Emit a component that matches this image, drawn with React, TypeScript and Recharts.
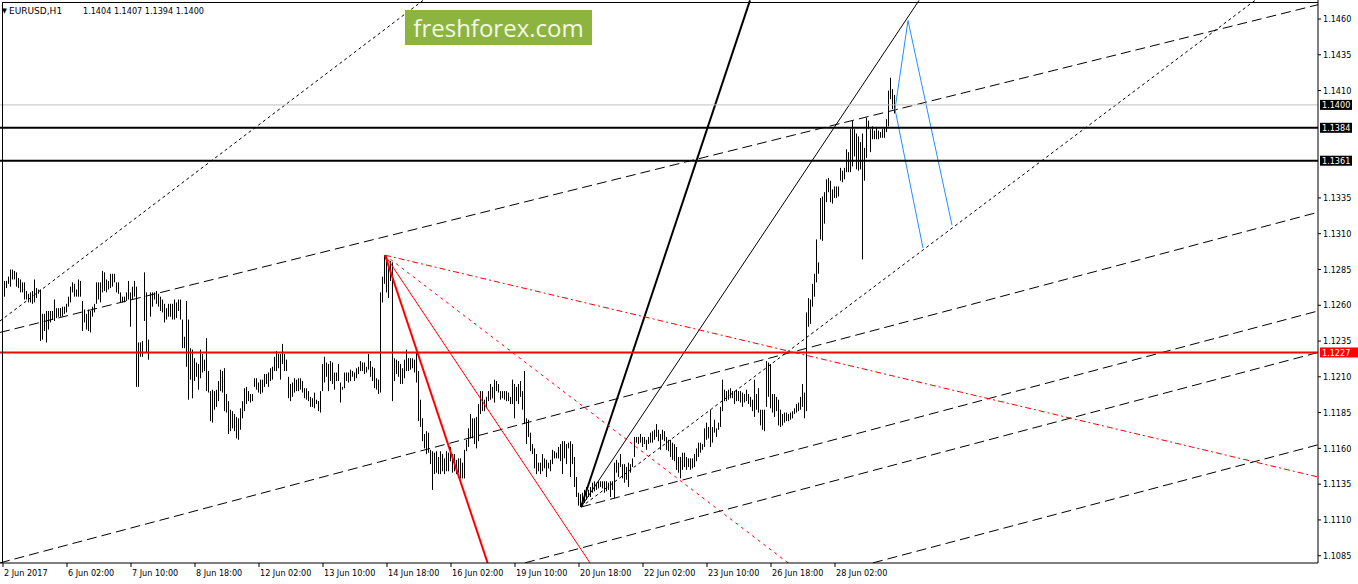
import React from "react";
import { ComposedChart, Bar, XAxis, YAxis, ReferenceLine } from "recharts";

const FONT = "'DejaVu Sans Condensed', 'DejaVu Sans', sans-serif";

// EURUSD H1, one row per trading day (24 bars), from 2 Jun 2017
const highs = [
  1.1283, 1.1277, 1.1277, 1.1280, 1.1285, 1.1285, 1.1284, 1.1283, 1.1279, 1.1278, 1.1276, 1.1276, 1.1270, 1.1268, 1.1269, 1.1270, 1.1278, 1.1272, 1.1271, 1.1271, 1.1254, 1.1254, 1.1256, 1.1256,
  1.1256, 1.1256, 1.1264, 1.1258, 1.1258, 1.1258, 1.1259, 1.1259, 1.1261, 1.1266, 1.1273, 1.1276, 1.1275, 1.1271, 1.1278, 1.1277, 1.1263, 1.1257, 1.1254, 1.1257, 1.1256, 1.1259, 1.1261, 1.1276,
  1.1276, 1.1276, 1.1284, 1.1283, 1.1278, 1.1277, 1.1282, 1.1282, 1.1282, 1.1276, 1.1276, 1.1269, 1.1266, 1.1266, 1.1269, 1.1277, 1.1269, 1.1273, 1.1277, 1.1273, 1.1234, 1.1234, 1.1235, 1.1283,
  1.1269, 1.1236, 1.1269, 1.1269, 1.1269, 1.1270, 1.1268, 1.1266, 1.1264, 1.1261, 1.1258, 1.1261, 1.1261, 1.1261, 1.1264, 1.1262, 1.1264, 1.1264, 1.1250, 1.1238, 1.1263, 1.1250, 1.1230, 1.1229,
  1.1223, 1.1220, 1.1219, 1.1229, 1.1226, 1.1222, 1.1237, 1.1214, 1.1200, 1.1201, 1.1200, 1.1201, 1.1207, 1.1215, 1.1214, 1.1216, 1.1198, 1.1193, 1.1187, 1.1186, 1.1184, 1.1182, 1.1181, 1.1188,
  1.1193, 1.1202, 1.1203, 1.1200, 1.1198, 1.1198, 1.1209, 1.1209, 1.1206, 1.1208, 1.1208, 1.1212, 1.1212, 1.1213, 1.1216, 1.1217, 1.1224, 1.1228, 1.1226, 1.1226, 1.1233, 1.1226, 1.1222, 1.1210,
  1.1205, 1.1206, 1.1209, 1.1208, 1.1209, 1.1209, 1.1207, 1.1202, 1.1202, 1.1200, 1.1196, 1.1195, 1.1199, 1.1194, 1.1193, 1.1200, 1.1219, 1.1224, 1.1220, 1.1219, 1.1221, 1.1220, 1.1213, 1.1213,
  1.1219, 1.1206, 1.1203, 1.1213, 1.1213, 1.1213, 1.1215, 1.1214, 1.1213, 1.1216, 1.1217, 1.1221, 1.1220, 1.1220, 1.1217, 1.1226, 1.1221, 1.1217, 1.1216, 1.1209, 1.1208, 1.1269, 1.1280, 1.1295,
  1.1293, 1.1289, 1.1291, 1.1290, 1.1223, 1.1222, 1.1221, 1.1219, 1.1216, 1.1222, 1.1229, 1.1223, 1.1223, 1.1223, 1.1222, 1.1227, 1.1214, 1.1194, 1.1181, 1.1170, 1.1172, 1.1171, 1.1159, 1.1158,
  1.1157, 1.1158, 1.1154, 1.1158, 1.1156, 1.1153, 1.1158, 1.1157, 1.1161, 1.1156, 1.1156, 1.1152, 1.1153, 1.1153, 1.1150, 1.1159, 1.1166, 1.1174, 1.1184, 1.1181, 1.1181, 1.1182, 1.1191, 1.1200,
  1.1200, 1.1194, 1.1196, 1.1200, 1.1205, 1.1203, 1.1208, 1.1207, 1.1205, 1.1200, 1.1200, 1.1200, 1.1200, 1.1199, 1.1196, 1.1208, 1.1205, 1.1203, 1.1205, 1.1207, 1.1200, 1.1214, 1.1181, 1.1180,
  1.1171, 1.1163, 1.1160, 1.1156, 1.1150, 1.1150, 1.1156, 1.1153, 1.1152, 1.1150, 1.1152, 1.1159, 1.1158, 1.1157, 1.1161, 1.1163, 1.1165, 1.1165, 1.1163, 1.1164, 1.1165, 1.1163, 1.1154, 1.1140,
  1.1129, 1.1128, 1.1129, 1.1131, 1.1133, 1.1131, 1.1133, 1.1136, 1.1137, 1.1136, 1.1137, 1.1137, 1.1137, 1.1137, 1.1137, 1.1136, 1.1137, 1.1137, 1.1150, 1.1152, 1.1150, 1.1156, 1.1149, 1.1149,
  1.1147, 1.1150, 1.1149, 1.1153, 1.1168, 1.1168, 1.1168, 1.1170, 1.1168, 1.1168, 1.1166, 1.1168, 1.1171, 1.1172, 1.1173, 1.1177, 1.1173, 1.1170, 1.1173, 1.1172, 1.1168, 1.1166, 1.1166, 1.1164,
  1.1163, 1.1161, 1.1154, 1.1154, 1.1157, 1.1157, 1.1154, 1.1153, 1.1153, 1.1153, 1.1156, 1.1160, 1.1164, 1.1164, 1.1163, 1.1174, 1.1178, 1.1175, 1.1187, 1.1175, 1.1180, 1.1174, 1.1178, 1.1189,
  1.1208, 1.1201, 1.1200, 1.1201, 1.1202, 1.1200, 1.1200, 1.1201, 1.1200, 1.1200, 1.1199, 1.1198, 1.1201, 1.1198, 1.1196, 1.1194, 1.1208, 1.1198, 1.1202, 1.1187, 1.1187, 1.1187, 1.1221, 1.1220,
  1.1219, 1.1198, 1.1198, 1.1196, 1.1194, 1.1187, 1.1184, 1.1185, 1.1185, 1.1184, 1.1185, 1.1186, 1.1188, 1.1191, 1.1192, 1.1196, 1.1205, 1.1199, 1.1255, 1.1265, 1.1264, 1.1275, 1.1282, 1.1306,
  1.1290, 1.1335, 1.1336, 1.1339, 1.1348, 1.1349, 1.1347, 1.1341, 1.1343, 1.1343, 1.1343, 1.1356, 1.1354, 1.1356, 1.1369, 1.1367, 1.1383, 1.1389, 1.1383, 1.1380, 1.1378, 1.1374, 1.1380, 1.1370,
  1.1391, 1.1389, 1.1383, 1.1385, 1.1382, 1.1384, 1.1382, 1.1381, 1.1383, 1.1384, 1.1390, 1.1410, 1.1419, 1.1411, 1.1407,
];

const lows = [
  1.1266, 1.1266, 1.1272, 1.1275, 1.1273, 1.1278, 1.1278, 1.1273, 1.1272, 1.1269, 1.1269, 1.1264, 1.1264, 1.1262, 1.1262, 1.1261, 1.1262, 1.1265, 1.1268, 1.1235, 1.1236, 1.1242, 1.1234, 1.1243,
  1.1248, 1.1250, 1.1249, 1.1251, 1.1252, 1.1252, 1.1252, 1.1254, 1.1255, 1.1259, 1.1262, 1.1269, 1.1266, 1.1266, 1.1266, 1.1266, 1.1242, 1.1248, 1.1243, 1.1242, 1.1241, 1.1252, 1.1255, 1.1261,
  1.1264, 1.1262, 1.1269, 1.1270, 1.1269, 1.1271, 1.1272, 1.1273, 1.1276, 1.1269, 1.1268, 1.1262, 1.1262, 1.1262, 1.1263, 1.1264, 1.1245, 1.1264, 1.1266, 1.1203, 1.1203, 1.1224, 1.1224, 1.1249,
  1.1227, 1.1222, 1.1252, 1.1259, 1.1264, 1.1261, 1.1259, 1.1256, 1.1255, 1.1248, 1.1250, 1.1252, 1.1252, 1.1250, 1.1250, 1.1251, 1.1256, 1.1250, 1.1230, 1.1230, 1.1217, 1.1194, 1.1208, 1.1195,
  1.1207, 1.1210, 1.1201, 1.1209, 1.1213, 1.1214, 1.1200, 1.1199, 1.1179, 1.1178, 1.1187, 1.1189, 1.1193, 1.1200, 1.1199, 1.1186, 1.1185, 1.1170, 1.1172, 1.1174, 1.1172, 1.1167, 1.1166, 1.1173,
  1.1181, 1.1186, 1.1191, 1.1193, 1.1192, 1.1193, 1.1203, 1.1201, 1.1199, 1.1198, 1.1199, 1.1203, 1.1205, 1.1203, 1.1207, 1.1208, 1.1214, 1.1214, 1.1216, 1.1208, 1.1219, 1.1214, 1.1214, 1.1195,
  1.1193, 1.1196, 1.1199, 1.1200, 1.1200, 1.1201, 1.1199, 1.1195, 1.1194, 1.1193, 1.1189, 1.1189, 1.1188, 1.1191, 1.1186, 1.1185, 1.1200, 1.1206, 1.1210, 1.1200, 1.1207, 1.1205, 1.1201, 1.1207,
  1.1207, 1.1192, 1.1201, 1.1202, 1.1207, 1.1206, 1.1207, 1.1210, 1.1207, 1.1209, 1.1212, 1.1214, 1.1214, 1.1212, 1.1213, 1.1215, 1.1210, 1.1207, 1.1202, 1.1201, 1.1198, 1.1199, 1.1262, 1.1275,
  1.1269, 1.1265, 1.1277, 1.1193, 1.1207, 1.1212, 1.1210, 1.1205, 1.1205, 1.1209, 1.1214, 1.1214, 1.1215, 1.1216, 1.1213, 1.1206, 1.1179, 1.1175, 1.1165, 1.1160, 1.1156, 1.1157, 1.1149, 1.1131,
  1.1142, 1.1143, 1.1142, 1.1142, 1.1144, 1.1142, 1.1144, 1.1144, 1.1151, 1.1143, 1.1144, 1.1142, 1.1143, 1.1139, 1.1139, 1.1139, 1.1158, 1.1161, 1.1167, 1.1167, 1.1163, 1.1160, 1.1165, 1.1184,
  1.1186, 1.1186, 1.1188, 1.1193, 1.1194, 1.1195, 1.1192, 1.1200, 1.1199, 1.1194, 1.1195, 1.1194, 1.1193, 1.1193, 1.1191, 1.1191, 1.1181, 1.1193, 1.1191, 1.1196, 1.1187, 1.1177, 1.1163, 1.1168,
  1.1158, 1.1156, 1.1146, 1.1142, 1.1144, 1.1142, 1.1144, 1.1146, 1.1140, 1.1146, 1.1144, 1.1149, 1.1153, 1.1153, 1.1153, 1.1151, 1.1142, 1.1153, 1.1149, 1.1160, 1.1140, 1.1149, 1.1133, 1.1126,
  1.1120, 1.1119, 1.1120, 1.1122, 1.1124, 1.1126, 1.1126, 1.1129, 1.1130, 1.1131, 1.1132, 1.1133, 1.1132, 1.1129, 1.1130, 1.1131, 1.1126, 1.1131, 1.1125, 1.1143, 1.1140, 1.1147, 1.1139, 1.1136,
  1.1138, 1.1133, 1.1143, 1.1147, 1.1154, 1.1164, 1.1163, 1.1164, 1.1161, 1.1163, 1.1159, 1.1163, 1.1164, 1.1164, 1.1166, 1.1168, 1.1165, 1.1159, 1.1166, 1.1165, 1.1159, 1.1158, 1.1154, 1.1152,
  1.1151, 1.1145, 1.1143, 1.1139, 1.1145, 1.1147, 1.1145, 1.1147, 1.1145, 1.1146, 1.1147, 1.1151, 1.1154, 1.1157, 1.1159, 1.1161, 1.1166, 1.1167, 1.1161, 1.1164, 1.1171, 1.1168, 1.1173, 1.1175,
  1.1186, 1.1193, 1.1193, 1.1194, 1.1195, 1.1195, 1.1191, 1.1193, 1.1193, 1.1192, 1.1189, 1.1192, 1.1193, 1.1191, 1.1189, 1.1186, 1.1182, 1.1187, 1.1185, 1.1176, 1.1173, 1.1172, 1.1189, 1.1196,
  1.1188, 1.1185, 1.1182, 1.1186, 1.1176, 1.1175, 1.1176, 1.1178, 1.1179, 1.1179, 1.1180, 1.1181, 1.1184, 1.1185, 1.1186, 1.1187, 1.1189, 1.1181, 1.1186, 1.1245, 1.1247, 1.1259, 1.1266, 1.1276,
  1.1282, 1.1306, 1.1305, 1.1317, 1.1332, 1.1339, 1.1332, 1.1331, 1.1335, 1.1335, 1.1336, 1.1347, 1.1346, 1.1348, 1.1353, 1.1353, 1.1353, 1.1357, 1.1364, 1.1355, 1.1354, 1.1355, 1.1292, 1.1347,
  1.1363, 1.1383, 1.1367, 1.1376, 1.1376, 1.1376, 1.1376, 1.1377, 1.1377, 1.1377, 1.1381, 1.1385, 1.1404, 1.1397, 1.1394,
];

const timeTicks = [0, 32, 64, 96, 128, 160, 192, 224, 256, 288, 320, 352, 384, 416];
const timeLabels = [
  "2 Jun 2017", "6 Jun 02:00", "7 Jun 10:00", "8 Jun 18:00", "12 Jun 02:00", "13 Jun 10:00", "14 Jun 18:00",
  "16 Jun 02:00", "19 Jun 10:00", "20 Jun 18:00", "22 Jun 02:00", "23 Jun 10:00", "26 Jun 18:00", "28 Jun 02:00",
];
const priceTicks = [
  1.146, 1.1435, 1.141, 1.1335, 1.131, 1.1285, 1.126, 1.1235, 1.121, 1.1185, 1.116, 1.1135, 1.111, 1.1085,
];

const levels = [
  { price: 1.14, color: "#c0c0c0", width: 1, tag: "#000000", tagW: 32 },
  { price: 1.1384, color: "#000000", width: 2, tag: "#000000", tagW: 32 },
  { price: 1.1361, color: "#000000", width: 2, tag: "#000000", tagW: 32 },
  { price: 1.1227, color: "#ff0000", width: 2, tag: "#ff0000", tagW: 38 },
];

// drawn objects: [bar index, price] pairs
const trendLines = [
  // equidistant channel
  { from: [-1.5, 1.1241], to: [657.5, 1.147], color: "#000", width: 1, dash: "10 5" },
  { from: [-1.5, 1.108], to: [657.5, 1.1325], color: "#000", width: 1, dash: "10 5" },
  { from: [289, 1.1119], to: [657.5, 1.1256], color: "#000", width: 1, dash: "10 5" },
  { from: [261, 1.108], to: [657.5, 1.1227], color: "#000", width: 1, dash: "10 5" },
  { from: [435, 1.108], to: [657.5, 1.11625], color: "#000", width: 1, dash: "10 5" },
  { from: [-1.5, 1.1249], to: [210, 1.1473], color: "#000", width: 1, dash: "3 3" },
  // fan from the 20 Jun low
  { from: [289, 1.1119], to: [373.5, 1.1473], color: "#000", width: 2 },
  { from: [289, 1.1119], to: [458, 1.1473], color: "#000", width: 1 },
  { from: [289, 1.1119], to: [626, 1.1473], color: "#000", width: 1, dash: "3 3" },
  // fan from the 14 Jun high
  { from: [191, 1.1295], to: [242.3, 1.108], color: "#ff0000", width: 2 },
  { from: [191, 1.1295], to: [293.5, 1.108], color: "#ff0000", width: 1 },
  { from: [191, 1.1295], to: [392.5, 1.108], color: "#ff0000", width: 1, dash: "3 4" },
  { from: [191, 1.1295], to: [657.5, 1.114], color: "#ff0000", width: 1, dash: "6 3 2 3" },
  // projected swing
  { from: [460, 1.13], to: [446, 1.1397], color: "#1e90ff", width: 1 },
  { from: [446, 1.1397], to: [452.5, 1.1459], color: "#1e90ff", width: 1 },
  { from: [452.5, 1.1459], to: [474.5, 1.1316], color: "#1e90ff", width: 1 },
];

const data = highs.map((h, i) => ({ i, range: [lows[i], h] }));

const HiLoBar = (props: any) => {
  const { x, y, width, height } = props;
  if (x == null || y == null) return null;
  const cx = Math.floor(x + width / 2) + 0.5;
  const top = Math.min(y, y + height);
  const bottom = Math.max(y, y + height);
  return <line x1={cx} x2={cx} y1={top} y2={Math.max(bottom, top + 1)} stroke="#000" strokeWidth={1} />;
};

const TimeTick = (props: any) => {
  const { x, y, payload } = props;
  const k = timeTicks.indexOf(payload.value);
  return (
    <text x={x + 1} y={y + 7} fontSize={9} fontFamily={FONT} fill="#000">
      {timeLabels[k]}
    </text>
  );
};

const PriceTag = (props: any) => {
  const { viewBox, text, bg, w } = props;
  if (!viewBox) return null;
  const x = viewBox.x + viewBox.width + 2;
  const y = viewBox.y;
  return (
    <g>
      <rect x={x} y={y - 5} width={w} height={10} fill={bg} />
      <text x={x + 2} y={y + 3.5} fontSize={9} fontFamily={FONT} fill="#fff">
        {text}
      </text>
    </g>
  );
};

export default function App() {
  return (
    <div style={{ position: "absolute", left: 0, top: 0, width: 1358, height: 584, background: "#fff" }}>
      <style>{"body{margin:0}"}</style>
      <ComposedChart width={1358} height={584} data={data} margin={{ top: 0, right: 0, bottom: 0, left: 0 }}>
        <XAxis
          dataKey="i"
          type="number"
          domain={[-1.5, 657.5]}
          allowDataOverflow
          ticks={timeTicks}
          interval={0}
          height={21}
          tick={<TimeTick />}
          tickSize={4}
          tickLine={{ stroke: "#000" }}
          axisLine={{ stroke: "#000" }}
        />
        <YAxis
          orientation="right"
          type="number"
          domain={[1.10799, 1.14733]}
          allowDataOverflow
          ticks={priceTicks}
          interval={0}
          width={40}
          tickSize={3}
          tickFormatter={(v: number) => v.toFixed(4)}
          tick={{ fontSize: 9, fill: "#000", fontFamily: FONT }}
          tickLine={{ stroke: "#000" }}
          axisLine={{ stroke: "#000" }}
        />
        <Bar dataKey="range" barSize={1} shape={<HiLoBar />} isAnimationActive={false} />
        {trendLines.map((t, k) => (
          <ReferenceLine
            key={`t${k}`}
            segment={[
              { x: t.from[0], y: t.from[1] },
              { x: t.to[0], y: t.to[1] },
            ]}
            stroke={t.color}
            strokeWidth={t.width}
            strokeDasharray={t.dash}
            ifOverflow="hidden"
          />
        ))}
        {levels.map((l) => (
          <ReferenceLine
            key={l.price}
            y={l.price}
            stroke={l.color}
            strokeWidth={l.width}
            label={<PriceTag text={l.price.toFixed(4)} bg={l.tag} w={l.tagW} />}
          />
        ))}
      </ComposedChart>
      <svg width={1358} height={584} style={{ position: "absolute", left: 0, top: 0, pointerEvents: "none" }}>
        <line x1={2.5} x2={2.5} y1={2} y2={563} stroke="#000" />
        <line x1={2} x2={1318} y1={2.5} y2={2.5} stroke="#000" />
        <text x={2} y={13} fontSize={7} fontFamily={FONT} fill="#000">▼</text>
        <text x={9} y={14} fontSize={9} fontFamily="'DejaVu Sans', sans-serif" fill="#000">EURUSD,H1</text>
        <text x={83} y={14} fontSize={9} fontFamily={FONT} fill="#000">1.1404 1.1407 1.1394 1.1400</text>
        <rect x={405} y={10} width={187} height={35} fill="#8cb43f" />
        <text x={498.5} y={37} textAnchor="middle" fontSize={24} fontFamily="'Open Sans', sans-serif" fill="#f4f8ea">
          freshforex.com
        </text>
      </svg>
    </div>
  );
}
